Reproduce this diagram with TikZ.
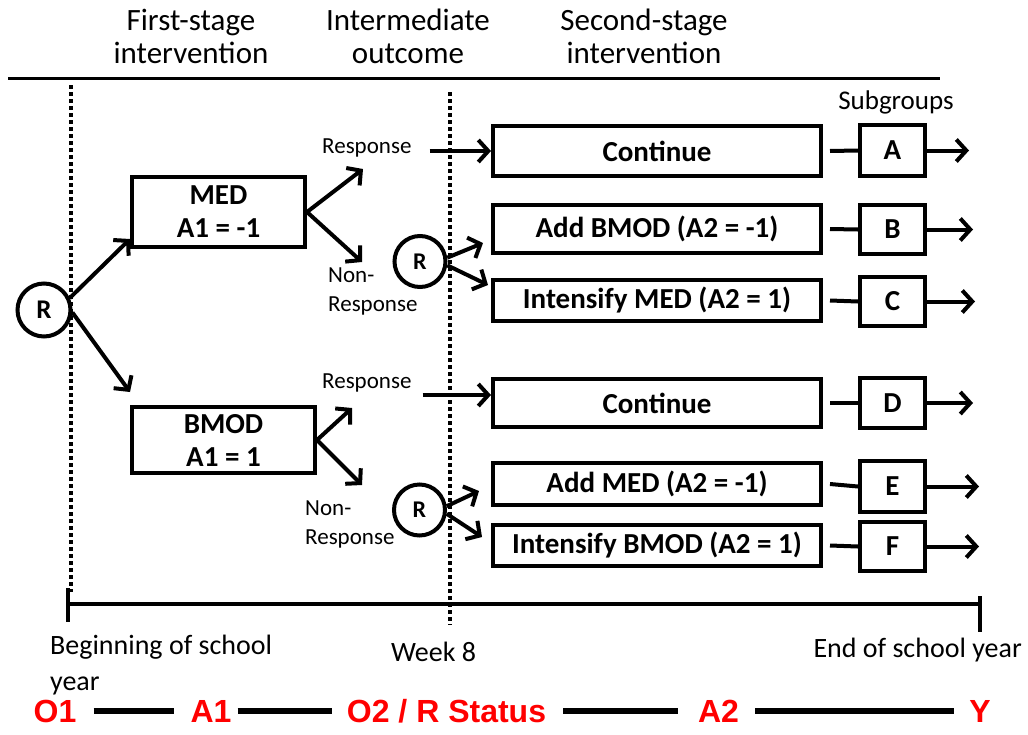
\documentclass[tikz,border=0pt]{standalone}
\usepackage{fontspec}
\setmainfont{Carlito}
\newfontfamily\arialfont{Liberation Sans}
\usetikzlibrary{arrows.meta,calc}
\begin{document}
\begin{tikzpicture}[x=1pt,y=-1pt,
  ln/.style={line width=4pt},
  arr/.style={line width=4pt,-{Straight Barb[length=10pt,width=22pt]}},
  bigbox/.style={draw,line width=4pt,minimum width=328pt,inner sep=0pt,font=\fontsize{29}{30}\selectfont\bfseries},
  subbox/.style={draw,line width=4pt,minimum width=65pt,inner sep=0pt,font=\fontsize{29}{30}\selectfont\bfseries},
  armbox/.style={draw,line width=4pt,inner sep=0pt,align=center,font=\fontsize{29}{33}\selectfont\bfseries},
  rcirc/.style={circle,draw,line width=4pt,inner sep=0pt,font=\fontsize{27}{27}\selectfont\bfseries},
  lbl/.style={inner sep=0pt,font=\fontsize{23}{29}\selectfont},
  head/.style={inner sep=0pt,align=center,font=\fontsize{31}{33}\selectfont},
  tl/.style={inner sep=0pt,font=\fontsize{28}{36}\selectfont},
  rd/.style={inner sep=0pt,text=red,text height=23pt,text depth=0pt,font=\arialfont\bfseries\fontsize{32}{34}\selectfont},
  dotln/.style={line width=4pt,dash pattern=on 3.5pt off 3.5pt},
  rl/.style={line width=5.5pt}]
\useasboundingbox (0,0) rectangle (1028,734);

% headings
\node[head] (h1) at (191,36) {First-stage\\intervention};
\node[head] (h2) at (408,36) {Intermediate\\outcome};
\node[head] (h3) at (644,36) {Second-stage\\intervention};
\draw[line width=3pt] (8,78) -- (940,78);

% dotted time markers
\draw[dotln] (71,85) -- (71,592);
\draw[dotln] (450,92) -- (450,625);

% first stage
\node[rcirc,minimum size=53pt] (R0) at (44,310) {R};
\node[armbox,minimum width=173pt,minimum height=70pt] (MED) at (218.5,212) {MED\\A1 = -1};
\node[armbox,minimum width=183pt,minimum height=66pt] (BMOD) at (223.5,440) {BMOD\\A1 = 1};
\draw[arr] (R0.25) -- ([yshift=10pt]MED.south west);
\draw[arr] (R0.-5) -- ([yshift=13pt]BMOD.north west);

% intermediate outcome labels
\node[lbl,anchor=west] (Resp1) at (322,148) {Response};
\node[lbl,anchor=north west,align=left] (NR1) at (328,268) {Non-\\Response};
\node[lbl,anchor=west] (Resp2) at (322,383) {Response};
\node[lbl,anchor=north west,align=left] (NR2) at (305,501) {Non-\\Response};

\coordinate (m1) at (363,169);
\coordinate (m2) at (362,262);
\coordinate (b1) at (352,408);
\coordinate (b2) at (362,485);
\draw[arr] (MED.east) -- (m1);
\draw[arr] (MED.east) -- (m2);
\draw[arr] (BMOD.east) -- (b1);
\draw[arr] (BMOD.east) -- (b2);

% second randomisations
\node[rcirc,minimum size=51pt,font=\fontsize{24}{24}\selectfont\bfseries] (R1) at (420,261.5) {R};
\node[rcirc,minimum size=51pt,font=\fontsize{24}{24}\selectfont\bfseries] (R2) at (419.5,510) {R};

% second stage boxes
\node[bigbox,minimum height=50pt] (Continue1) at (657,151) {Continue};
\node[bigbox,minimum height=48pt] (AddBMOD) at (657,229) {Add BMOD (A2 = -1)};
\node[bigbox,minimum height=41pt] (IntMED) at (657,300.5) {Intensify MED (A2 = 1)};
\node[bigbox,minimum height=48pt] (Continue2) at (657,403) {Continue};
\node[bigbox,minimum height=42pt] (AddMED) at (657,484) {Add MED (A2 = -1)};
\node[bigbox,minimum height=41pt] (IntBMOD) at (657,545.5) {Intensify BMOD (A2 = 1)};

\draw[arr] ($(Resp1.east |- Continue1.west)+(18,0)$) -- (Continue1.west);
\draw[arr] ($(Resp2.east |- Continue2.west)+(11,-8)$) -- ([yshift=8pt]Continue2.west);
\draw[arr] (R1.8) -- ([shift={(-8pt,12pt)}]AddBMOD.south west);
\draw[arr] (R1.-8) -- ([shift={(-3pt,-7pt)}]IntMED.north west);
\draw[arr] (R2.8) -- ([shift={(-12pt,16pt)}]AddMED.south west);
\draw[arr] (R2.-8) -- ([shift={(-9pt,-14pt)}]IntBMOD.north west);

% subgroups
\node[inner sep=0pt,font=\fontsize{27}{27}\selectfont] (sg) at (896,102) {Subgroups};
\node[subbox,minimum height=51pt] (A) at (892.5,150.5) {A};
\node[subbox,minimum height=49pt] (B) at (892.5,229.5) {B};
\node[subbox,minimum height=49pt] (C) at (892.5,301.5) {C};
\node[subbox,minimum height=50pt] (D) at (892.5,403) {D};
\node[subbox,minimum height=51pt] (E) at (892.5,486.5) {E};
\node[subbox,minimum height=49pt] (F) at (892.5,546.5) {F};

\draw[ln] ([xshift=7pt]Continue1.east) -- (A.west);
\draw[ln] ([xshift=7pt]AddBMOD.east) -- (B.west);
\draw[ln] ([xshift=7pt]IntMED.east) -- (C.west);
\draw[ln] ([xshift=7pt]Continue2.east) -- (D.west);
\draw[ln] ([xshift=7pt]AddMED.east) -- (E.west);
\draw[ln] ([xshift=7pt]IntBMOD.east) -- (F.west);

\draw[arr] (A.east) -- ++(42,0);
\draw[arr] (B.east) -- ++(46,0);
\draw[arr] (C.east) -- ++(48,0);
\draw[arr] (D.east) -- ++(46,0);
\draw[arr] (E.east) -- ++(52,0);
\draw[arr] (F.east) -- ++(52,0);

% timeline
\draw[line width=4pt] (68,604) -- (980,604);
\draw[line width=4pt] (68,588) -- (68,622);
\draw[line width=4pt] (980,596) -- (980,632);
\node[tl,anchor=north west,align=left] (beg) at (50,635) {Beginning of school\\year};
\node[tl] (wk) at (433.5,652) {Week 8};
\node[tl,anchor=east] (endy) at (1022,650) {End of school year};

% red sequence
\node[rd] (O1) at (55,711) {O1};
\node[rd] (A1) at (211,711) {A1};
\node[rd] (O2) at (446.5,711) {O2 / R Status};
\node[rd] (A2) at (718.5,711) {A2};
\node[rd] (Y) at (980,711) {Y};
\draw[rl] ([xshift=17pt]O1.east) -- ([xshift=-16pt]A1.west);
\draw[rl] ([xshift=6pt]A1.east) -- ([xshift=-15pt]O2.west);
\draw[rl] ([xshift=17pt]O2.east) -- ([xshift=-20pt]A2.west);
\draw[rl] ([xshift=16pt]A2.east) -- ([xshift=-15pt]Y.west);
\end{tikzpicture}
\end{document}
